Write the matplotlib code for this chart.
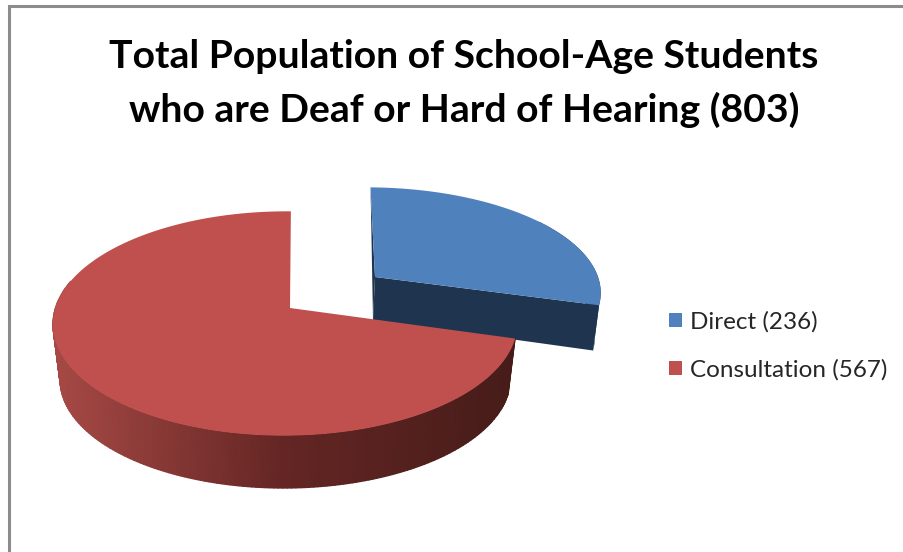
import numpy as np
import matplotlib
matplotlib.use('Agg')
import matplotlib.pyplot as plt
from matplotlib.colors import LinearSegmentedColormap
from matplotlib.patches import Patch, Polygon

categories = ['Direct', 'Consultation']
values = [236, 567]
top_colors = ['#4F81BD', '#C0504D']
title_lines = ['Total Population of School-Age Students',
               'who are Deaf or Hard of Hearing (%d)' % sum(values)]

# slice angles come from the values, first slice starts at 12 o'clock going clockwise
sweep = [v / sum(values) * 360 for v in values]
blue_ang = np.radians(np.linspace(90, 90 - sweep[0], 120))
red_ang = np.radians(np.linspace(90, 90 + sweep[1], 260))


def ring(ang, ax0, ay0, a, b, skew):
    # tilted circle with a bit of perspective, pixels on the figure
    u, v = np.cos(ang), np.sin(ang)
    s = 1 / (1 + 0.138 * v + 0.02 * u)
    return np.column_stack([ax0 + (a * u + skew * v) * s, ay0 - b * v * s])


fig = plt.figure(figsize=(9.04, 5.52), dpi=100)
ax = fig.add_axes([0, 0, 1, 1])

# chart frame, only top and left show in the crop
ax.plot([9.5, 9.5, 904], [552, 6, 6], color='#8c8c8c', lw=2.2, solid_joinstyle='miter')

# blue slice
b_top = ring(blue_ang, 374, 277, 228.5, 102, -4)
b_low = ring(blue_ang, 373, 320, 224, 110, -2)
blue_apex_top, blue_apex_low = (375, 277), (373, 320)
dark = '#1F344E'
ax.add_patch(Polygon([blue_apex_top, b_top[0], b_low[0], blue_apex_low], fc=dark, ec='none'))
ax.add_patch(Polygon(np.vstack([b_top[60:], b_low[60:][::-1]]), fc=dark, ec='none'))
ax.add_patch(Polygon([blue_apex_top, b_top[-1], b_low[-1], blue_apex_low], fc=dark, ec='none'))
ax.add_patch(Polygon(np.vstack([[blue_apex_top], b_top]), fc=top_colors[0], ec='none'))

# red slice, wall first then top
r_top = ring(red_ang, 290, 308, 230, 110, 1)
r_low = ring(red_ang, 290, 364, 223, 107, 1)
front = np.degrees(red_ang) >= 165
wall_x = np.vstack([r_top[front, 0], r_low[front, 0]])
wall_y = np.vstack([r_top[front, 1], r_low[front, 1]])
wall_cmap = LinearSegmentedColormap.from_list('wall', ['#A84A46', '#642624', '#461C19'])
ax.pcolormesh(wall_x, wall_y, wall_x, cmap=wall_cmap, shading='gouraud', vmin=52, vmax=515)
ax.add_patch(Polygon(np.vstack([[(290, 308)], r_top]), fc=top_colors[1], ec='none'))

ax.set_xlim(0, 904)
ax.set_ylim(552, 0)
ax.axis('off')

for i, line in enumerate(title_lines):
    ax.text(464, 68 + i * 54, line, ha='center', va='baseline', fontsize=28.15,
            fontweight='bold', family='Lato', color='black')

handles = [Patch(fc=c, ec='none') for c in top_colors]
labels = ['%s (%d)' % (c, v) for c, v in zip(categories, values)]
ax.legend(handles, labels, loc='upper left', bbox_to_anchor=(669, 311.5),
          bbox_transform=ax.transData, frameon=False, borderaxespad=0, borderpad=0,
          prop={'family': 'Lato', 'size': 17.5}, handlelength=0.52, handleheight=0.52,
          handletextpad=0.35, labelspacing=1.07, labelcolor='#262626')

fig.savefig('out.png', dpi=100)
